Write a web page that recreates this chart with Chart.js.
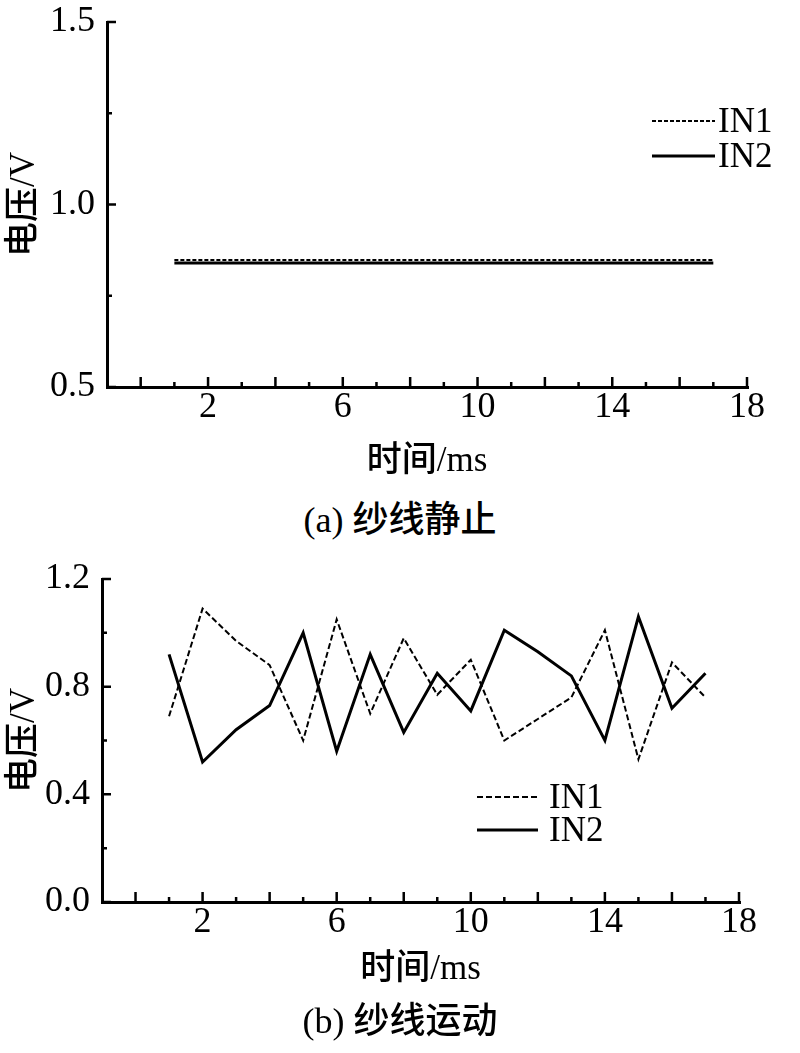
<!DOCTYPE html>
<html>
<head>
<meta charset="utf-8">
<script src="https://cdn.jsdelivr.net/npm/chart.js@4"></script>
<style>
  body { margin: 0; background: #fff; width: 800px; height: 1053px; position: relative; overflow: hidden; }
  .box { position: absolute; left: 0; width: 800px; }
  .cap { position: absolute; left: 0; width: 800px; text-align: center; line-height: 40px;
         font: 500 36px "Liberation Serif", "Noto Sans CJK SC"; color: #000; }
</style>
</head>
<body>
<div class="box" style="top:0;height:490px"><canvas id="chartA"></canvas></div>
<div class="cap" style="top:490px">(a) 纱线静止</div>
<div class="box" style="top:540px;height:460px"><canvas id="chartB"></canvas></div>
<div class="cap" style="top:991px">(b) 纱线运动</div>

<script>
// time axis (ms)
const time = [1, 2, 3, 4, 5, 6, 7, 8, 9, 10, 11, 12, 13, 14, 15, 16, 17];

// (a) yarn at rest
const restIN1 = [0.848, 0.848, 0.848, 0.848, 0.848, 0.848, 0.848, 0.848, 0.848, 0.848, 0.848, 0.848, 0.848, 0.848, 0.848, 0.848, 0.848];
const restIN2 = [0.840, 0.840, 0.840, 0.840, 0.840, 0.840, 0.840, 0.840, 0.840, 0.840, 0.840, 0.840, 0.840, 0.840, 0.840, 0.840, 0.840];

// (b) yarn moving
const moveIN1 = [0.69, 1.09, 0.97, 0.88, 0.60, 1.05, 0.70, 0.98, 0.77, 0.90, 0.60, 0.68, 0.76, 1.01, 0.53, 0.89, 0.76];
const moveIN2 = [0.92, 0.52, 0.64, 0.73, 1.00, 0.56, 0.92, 0.63, 0.85, 0.71, 1.01, 0.93, 0.84, 0.60, 1.06, 0.72, 0.85];

// tick labels
const xTickLabels = [2, 6, 10, 14, 18];
const yTicksA = [0.5, 1.0, 1.5];
const yTicksB = [0.0, 0.4, 0.8, 1.2];

const FONT = '"Liberation Serif", "Noto Sans CJK SC"';

// inward tick marks, long on even steps, short on the half steps
const innerTicks = {
  id: 'innerTicks',
  afterDraw(chart, args, opts) {
    const ctx = chart.ctx, a = chart.chartArea;
    const xs = chart.scales.x, ys = chart.scales.y;
    ctx.save();
    ctx.strokeStyle = '#000';
    ctx.lineWidth = 2.5;
    ctx.beginPath();
    for (let v = 0; v <= xs.max + 1e-9; v += 1) {
      const px = xs.getPixelForValue(v);
      const len = (v % 2 === 0) ? 10 : 5;
      ctx.moveTo(px, a.bottom);
      ctx.lineTo(px, a.bottom - len);
    }
    const step = opts.yStep;
    for (let i = 0; ys.min + i * step <= ys.max + 1e-9; i++) {
      const py = ys.getPixelForValue(ys.min + i * step);
      const len = (i % 2 === 0) ? 9 : 5;
      ctx.moveTo(a.left, py);
      ctx.lineTo(a.left + len, py);
    }
    ctx.stroke();
    ctx.restore();
  }
};

// legend drawn at a fixed place inside the plot
const placedLegend = {
  id: 'placedLegend',
  afterDraw(chart, args, opts) {
    const ctx = chart.ctx;
    ctx.save();
    ctx.font = '35px ' + FONT;
    ctx.fillStyle = '#000';
    ctx.textBaseline = 'middle';
    chart.data.datasets.forEach((ds, i) => {
      const y = opts.y + i * opts.rowH;
      ctx.strokeStyle = '#000';
      ctx.lineWidth = ds.borderWidth;
      ctx.setLineDash(ds.borderDash || []);
      ctx.beginPath();
      ctx.moveTo(opts.x, y);
      ctx.lineTo(opts.x + opts.lineLen, y);
      ctx.stroke();
      ctx.setLineDash([]);
      ctx.fillText(ds.label, opts.x + opts.lineLen + opts.gap, y + 2);
    });
    ctx.restore();
  }
};

function makeChart(id, cfg) {
  const near = (list, v) => list.some(t => Math.abs(t - v) < 1e-6);
  return new Chart(document.getElementById(id), {
    type: 'line',
    data: {
      datasets: [
        { label: 'IN1', data: time.map((t, i) => ({ x: t, y: cfg.in1[i] })),
          borderColor: '#000', borderWidth: 2, borderDash: cfg.dash, pointRadius: 0, tension: 0 },
        { label: 'IN2', data: time.map((t, i) => ({ x: t, y: cfg.in2[i] })),
          borderColor: '#000', borderWidth: 3, pointRadius: 0, tension: 0 }
      ]
    },
    options: {
      responsive: true,
      maintainAspectRatio: false,
      animation: false,
      layout: { padding: { left: 0, right: cfg.padRight, top: cfg.padTop, bottom: 0 } },
      plugins: {
        legend: { display: false },
        tooltip: { enabled: false },
        innerTicks: { yStep: cfg.yStep },
        placedLegend: cfg.legend
      },
      scales: {
        x: {
          type: 'linear', min: -1, max: 18,
          afterBuildTicks: s => { s.ticks = xTickLabels.map(v => ({ value: v })); },
          afterFit: s => { s.height = cfg.xAxisH; s.paddingLeft = 0; s.paddingRight = 0; },
          grid: { drawOnChartArea: false, drawTicks: false, lineWidth: 3, color: '#000' },
          border: { display: true, width: 3, color: '#000' },
          ticks: { color: '#000', padding: 3, maxRotation: 0, font: { family: FONT, size: 36, lineHeight: 1 } },
          title: { display: true, text: '时间/ms', color: '#000',
                   font: { family: FONT, size: 35, weight: 500 }, padding: { top: 0, bottom: cfg.xTitlePad } }
        },
        y: {
          type: 'linear', min: cfg.yTicks[0], max: cfg.yTicks[cfg.yTicks.length - 1],
          afterBuildTicks: s => { s.ticks = cfg.yTicks.map(v => ({ value: v })); },
          afterFit: s => { s.width = cfg.yAxisW; s.paddingTop = 0; s.paddingBottom = 0; },
          grid: { drawOnChartArea: false, drawTicks: false, lineWidth: 3, color: '#000' },
          border: { display: true, width: 3, color: '#000' },
          ticks: { color: '#000', padding: 12, font: { family: FONT, size: 36, lineHeight: 1 },
                   callback: v => near(cfg.yTicks, v) ? v.toFixed(1) : '' },
          title: { display: true, text: '电压/V', color: '#000',
                   font: { family: FONT, size: 35, weight: 500 }, padding: { top: 4, bottom: 0 } }
        }
      }
    },
    plugins: [innerTicks, placedLegend]
  });
}

makeChart('chartA', {
  in1: restIN1, in2: restIN2, dash: [4, 2], yTicks: yTicksA, yStep: 0.25,
  padRight: 53, padTop: 22, xAxisH: 103, yAxisW: 107, xTitlePad: 7,
  legend: { x: 652, y: 121, rowH: 35, lineLen: 63, gap: 3 }
});

makeChart('chartB', {
  in1: moveIN1, in2: moveIN2, dash: [6, 3], yTicks: yTicksB, yStep: 0.2,
  padRight: 61, padTop: 39, xAxisH: 98, yAxisW: 102, xTitlePad: 9,
  legend: { x: 477, y: 257, rowH: 33, lineLen: 61, gap: 11 }
});
</script>
</body>
</html>
